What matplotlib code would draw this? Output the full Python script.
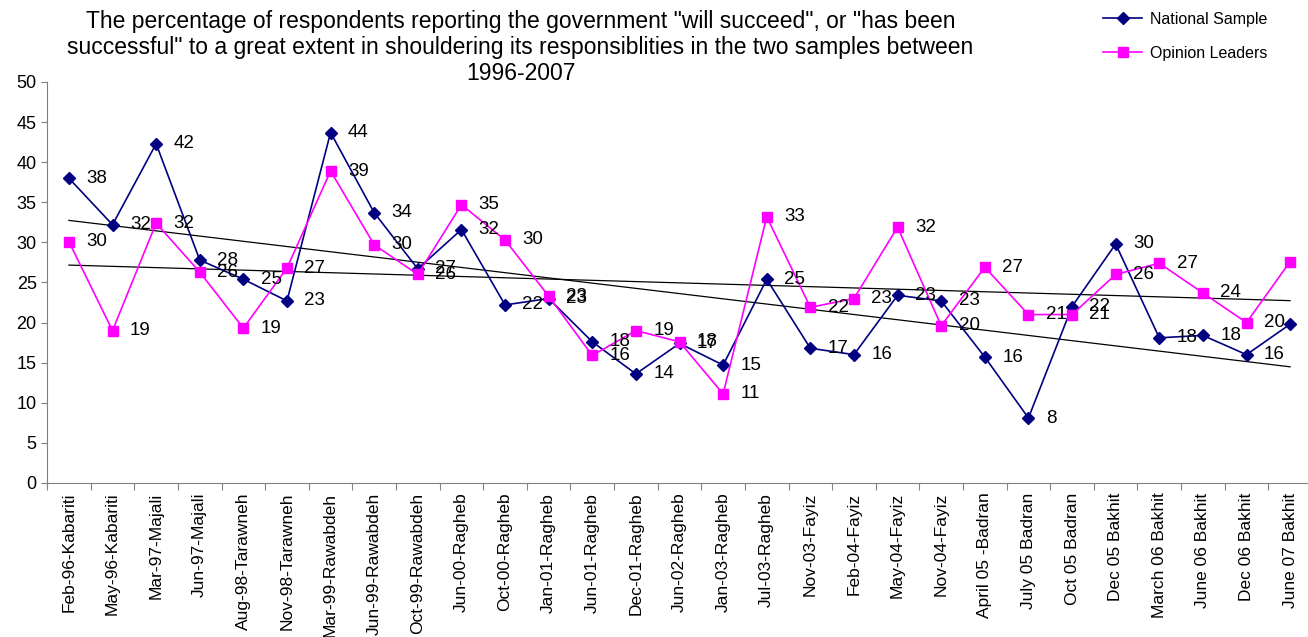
import numpy as np
import matplotlib.pyplot as plt

plt.rcParams['font.family'] = ['Liberation Sans', 'DejaVu Sans']

# Dados
categorias = ['Feb-96-Kabariti', 'May-96-Kabariti', 'Mar-97-Majali', 'Jun-97-Majali',
              'Aug-98-Tarawneh', 'Nov-98-Tarawneh', 'Mar-99-Rawabdeh', 'Jun-99-Rawabdeh',
              'Oct-99-Rawabdeh', 'Jun-00-Ragheb', 'Oct-00-Ragheb', 'Jan-01-Ragheb',
              'Jun-01-Ragheb', 'Dec-01-Ragheb', 'Jun-02-Ragheb', 'Jan-03-Ragheb',
              'Jul-03-Ragheb', 'Nov-03-Fayiz', 'Feb-04-Fayiz', 'May-04-Fayiz',
              'Nov-04-Fayiz', 'April 05 -Badran', 'July 05 Badran', 'Oct 05 Badran',
              'Dec 05 Bakhit', 'March 06 Bakhit', 'June 06 Bakhit', 'Dec 06 Bakhit',
              'June 07 Bakhit']

national = [38.0, 32.2, 42.3, 27.8, 25.4, 22.7, 43.7, 33.7, 26.7, 31.6,
            22.2, 23.0, 17.6, 13.6, 17.4, 14.7, 25.4, 16.8, 16.0, 23.4,
            22.7, 15.7, 8.1, 22.0, 29.8, 18.1, 18.4, 16.0, 19.8]

opinion = [30.1, 19.0, 32.4, 26.3, 19.3, 26.8, 38.9, 29.7, 26.0, 34.7,
           30.3, 23.3, 15.9, 19.0, 17.6, 11.1, 33.2, 21.9, 23.0, 31.9,
           19.6, 26.9, 21.0, 21.0, 26.0, 27.4, 23.7, 20.0, 27.6]

titulo = ('The percentage of respondents reporting the government "will succeed", or "has been\n'
          'successful" to a great extent in shouldering its responsiblities in the two samples between\n'
          '1996-2007')

cor_nat = '#000080'
cor_op = '#FF00FF'

fig = plt.figure(figsize=(13.08, 6.37), dpi=100)
ax = fig.add_axes([0.036, 0.2418, 0.967, 0.6295])

x = np.arange(len(categorias))

# Séries
ax.plot(x, national, color=cor_nat, marker='D', markersize=6, linewidth=1.2,
        label='National Sample', zorder=3)
ax.plot(x, opinion, color=cor_op, marker='s', markersize=6.5, linewidth=1.2,
        label='Opinion Leaders', zorder=3)

# Linhas de tendência
for serie in (national, opinion):
    a, b = np.polyfit(x, serie, 1)
    ax.plot([x[0], x[-1]], [a * x[0] + b, a * x[-1] + b], color='k', linewidth=0.9, zorder=2)

# Rótulos
for serie in (national, opinion):
    for xi, v in zip(x, serie):
        ax.annotate(str(int(v + 0.5)), (xi, v), xytext=(12.5, 0), textcoords='offset points',
                    ha='left', va='center', fontsize=13.5, zorder=4)

# Eixos
ax.set_xlim(-0.5, len(categorias) - 0.5)
ax.set_ylim(0, 50)
ax.set_yticks(np.arange(0, 51, 5))
ax.tick_params(axis='y', labelsize=13, length=4, color='#808080')

ax.set_xticks(np.arange(-0.5, len(categorias), 1))
ax.set_xticklabels([])
ax.tick_params(axis='x', which='major', length=5, color='#808080')
ax.set_xticks(x, minor=True)
ax.set_xticklabels(categorias, minor=True, rotation=90, fontsize=12.5)
ax.tick_params(axis='x', which='minor', length=0, pad=7)

for lado in ('top', 'right'):
    ax.spines[lado].set_visible(False)
for lado in ('left', 'bottom'):
    ax.spines[lado].set_color('#808080')

fig.text(0.398, 0.984, titulo, ha='center', va='top', fontsize=16.5, linespacing=1.17)

fig.legend(loc='upper left', bbox_to_anchor=(0.835, 0.999), frameon=False, fontsize=11.5,
           handlelength=2.4, labelspacing=1.2, borderaxespad=0.3, handletextpad=0.5)

plt.savefig('out.png', dpi=100)
